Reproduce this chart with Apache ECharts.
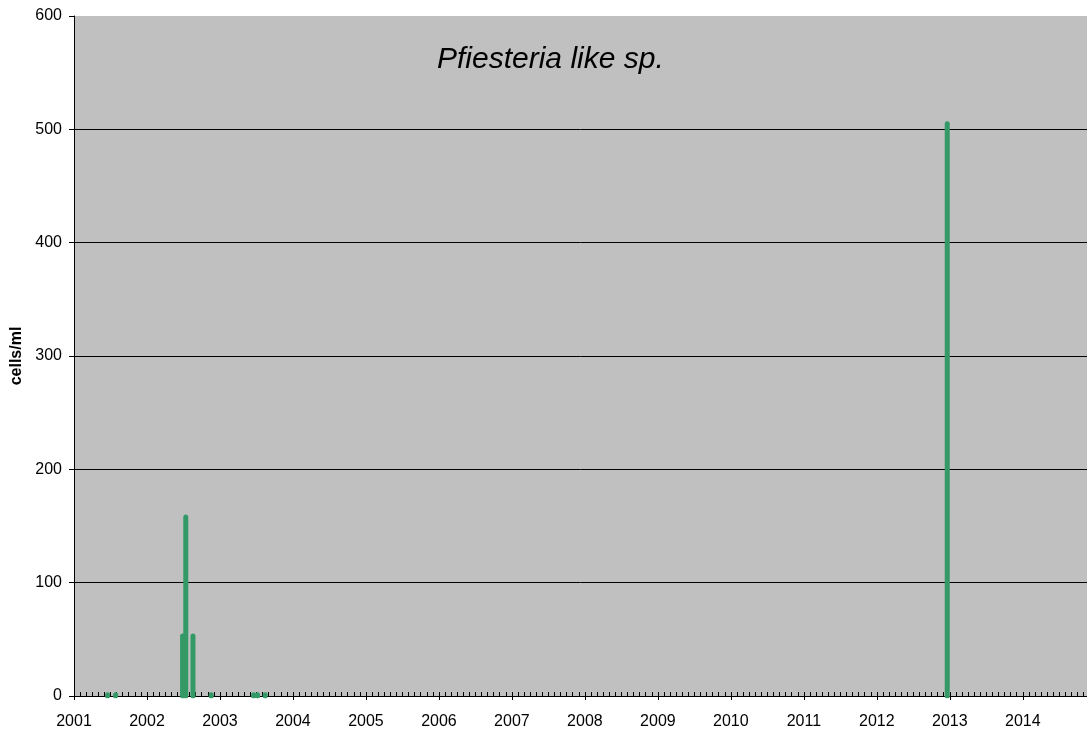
<!DOCTYPE html>
<html>
<head>
<meta charset="utf-8">
<script src="https://cdn.jsdelivr.net/npm/echarts@6/dist/echarts.min.js"></script>
<style>
html,body{margin:0;padding:0;background:#fff;}
#chart{width:1087px;height:732px;}
</style>
</head>
<body>
<div id="chart"></div>
<script>
// Sample dates (cells/ml readings) and values
const sampleDates = ['2001-06-18','2001-07-28','2002-06-28','2002-07-14','2002-08-19','2002-11-18','2003-06-18','2003-07-08','2003-08-15','2012-12-19'];
const cellValues  = [1, 1, 53, 158, 53, 1, 1, 1, 1, 505];
const yTicks = [0, 100, 200, 300, 400, 500, 600];
const xStartYear = 2001;
const xEndDate = '2014-11-18';

function fracYear(s){
  const d = new Date(s + 'T00:00:00Z');
  const y = d.getUTCFullYear();
  const a = Date.UTC(y,0,1), b = Date.UTC(y+1,0,1);
  return y + (d.getTime()-a)/(b-a);
}

const seriesData = [];
sampleDates.forEach((d,i)=>{
  const x = fracYear(d);
  seriesData.push([x,0]);
  seriesData.push([x,cellValues[i]]);
  seriesData.push([x,'-']);
});

const chart = echarts.init(document.getElementById('chart'), null, {renderer:'canvas'});
const font = 'Liberation Sans, Arial, sans-serif';
chart.setOption({
  animation:false,
  backgroundColor:'#ffffff',
  title:{
    text:'Pfiesteria like sp.',
    left:432, top:40,
    textStyle:{fontFamily:font, fontSize:30, fontStyle:'italic', fontWeight:'normal', color:'#000'}
  },
  grid:{left:74, right:0, top:16, bottom:36, show:true, backgroundColor:'#c0c0c0', borderWidth:0, containLabel:false, outerBoundsMode:'none'},
  xAxis:[{
    type:'value', min:xStartYear, max:fracYear(xEndDate), interval:1,
    axisLine:{show:true, lineStyle:{color:'#000', width:1}},
    axisTick:{show:true, length:4, inside:false, lineStyle:{color:'#000'}},
    axisLabel:{fontFamily:font, fontSize:16, color:'#000', margin:18, formatter:v=>String(Math.round(v)), showMaxLabel:false},
    splitLine:{show:false}
  },{
    type:'value', min:xStartYear, max:fracYear(xEndDate), interval:1/12, position:'bottom',
    axisLine:{show:false},
    axisTick:{show:true, length:4, inside:true, lineStyle:{color:'#000'}},
    axisLabel:{show:false},
    splitLine:{show:false}
  }],
  yAxis:{
    type:'value', min:0, max:600, interval:100,
    name:'cells/ml', nameLocation:'middle', nameGap:47,
    nameTextStyle:{fontFamily:font, fontSize:16, fontWeight:'bold', color:'#000'},
    axisLine:{show:true, lineStyle:{color:'#000', width:1}},
    axisTick:{show:true, length:5, inside:false, lineStyle:{color:'#000'}},
    axisLabel:{fontFamily:font, fontSize:16, color:'#000', margin:12},
    splitLine:{show:true, showMaxLine:false, lineStyle:{color:'#000', width:1}}
  },
  series:[{
    type:'line', xAxisIndex:0, data:seriesData, symbol:'none', connectNulls:false,
    lineStyle:{color:'#339966', width:5, cap:'round', join:'round'},
    itemStyle:{color:'#339966'}
  }]
});
</script>
</body>
</html>
